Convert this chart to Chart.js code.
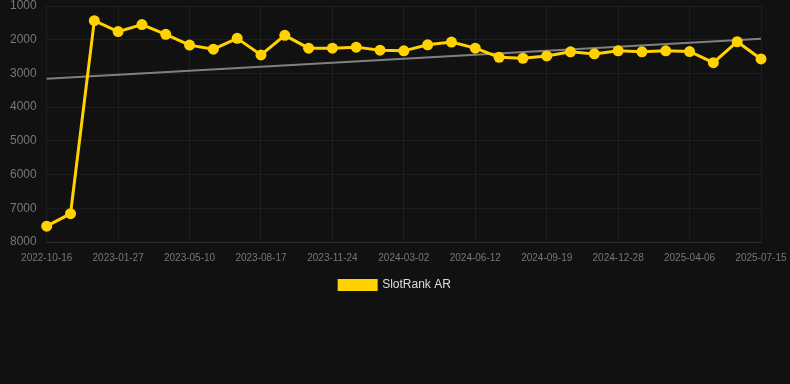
<!DOCTYPE html>
<html>
<head>
<meta charset="utf-8">
<script src="https://cdn.jsdelivr.net/npm/chart.js@4/dist/chart.umd.min.js"></script>
<style>
  html, body { margin: 0; padding: 0; background: #111111; }
  #wrap { width: 790px; height: 384px; }
</style>
</head>
<body>
<div id="wrap"><canvas id="rankChart"></canvas></div>
<script>
// chart data
const dates = [
  "2022-10-16", "2022-11-19", "2022-12-23", "2023-01-27", "2023-03-01", "2023-04-05",
  "2023-05-10", "2023-06-12", "2023-07-15", "2023-08-17", "2023-09-19", "2023-10-22",
  "2023-11-24", "2023-12-27", "2024-01-29", "2024-03-02", "2024-04-05", "2024-05-09",
  "2024-06-12", "2024-07-15", "2024-08-17", "2024-09-19", "2024-10-22", "2024-11-25",
  "2024-12-28", "2025-01-30", "2025-03-04", "2025-04-06", "2025-05-09", "2025-06-12",
  "2025-07-15"
];
const rankAR = [
  7530, 7160, 1435, 1760, 1550, 1840, 2160, 2280, 1960, 2450, 1870, 2250,
  2250, 2220, 2310, 2330, 2150, 2070, 2250, 2520, 2550, 2480, 2360, 2420,
  2330, 2360, 2330, 2350, 2680, 2060, 2570
];
// trend line: only the two ends, joined across the gap
const trendEnds = { first: 3160, last: 1975 };
const trend = dates.map((_, i) =>
  i === 0 ? trendEnds.first : (i === dates.length - 1 ? trendEnds.last : null));
const yTicks = [1000, 2000, 3000, 4000, 5000, 6000, 7000, 8000];

Chart.defaults.font.family = "Arial, 'Liberation Sans', sans-serif";
Chart.defaults.color = "#777";

new Chart(document.getElementById("rankChart"), {
  type: "line",
  data: {
    labels: dates,
    datasets: [
      {
        label: "SlotRank AR",
        data: rankAR,
        borderColor: "#ffd200",
        backgroundColor: "#ffd200",
        borderWidth: 3,
        pointRadius: 5.5,
        pointBackgroundColor: "#ffd200",
        pointBorderWidth: 0,
        tension: 0,
        clip: false,
        order: 1
      },
      {
        label: "Trend",
        data: trend,
        spanGaps: true,
        borderColor: "#808080",
        borderWidth: 2,
        pointRadius: 0,
        tension: 0,
        order: 2
      }
    ]
  },
  options: {
    responsive: true,
    maintainAspectRatio: false,
    animation: false,
    layout: { autoPadding: false, padding: { left: 0, right: 0, top: 0, bottom: 83 } },
    plugins: {
      legend: {
        position: "bottom",
        labels: {
          color: "#ddd",
          font: { size: 12 },
          boxWidth: 37,
          boxHeight: 9,
          padding: 5,
          filter: item => item.text !== "Trend"
        }
      },
      tooltip: { enabled: false }
    },
    scales: {
      x: {
        grid: { color: "rgba(255,255,255,0.05)", drawTicks: false },
        border: { color: "rgba(255,255,255,0.08)" },
        afterFit: s => { s.paddingRight = 29; },
        ticks: {
          color: "#777",
          font: { size: 10 },
          maxRotation: 0,
          autoSkip: true,
          maxTicksLimit: 11,
          padding: 10
        }
      },
      y: {
        reverse: true,
        min: yTicks[0],
        max: yTicks[yTicks.length - 1],
        afterBuildTicks: axis => { axis.ticks = yTicks.map(v => ({ value: v })); },
        afterFit: s => { s.paddingTop = 6; },
        grid: { color: "rgba(255,255,255,0.05)", drawTicks: false },
        border: { display: false },
        ticks: { color: "#777", font: { size: 12 }, padding: 10, callback: v => String(v) }
      }
    }
  }
});
</script>
</body>
</html>
